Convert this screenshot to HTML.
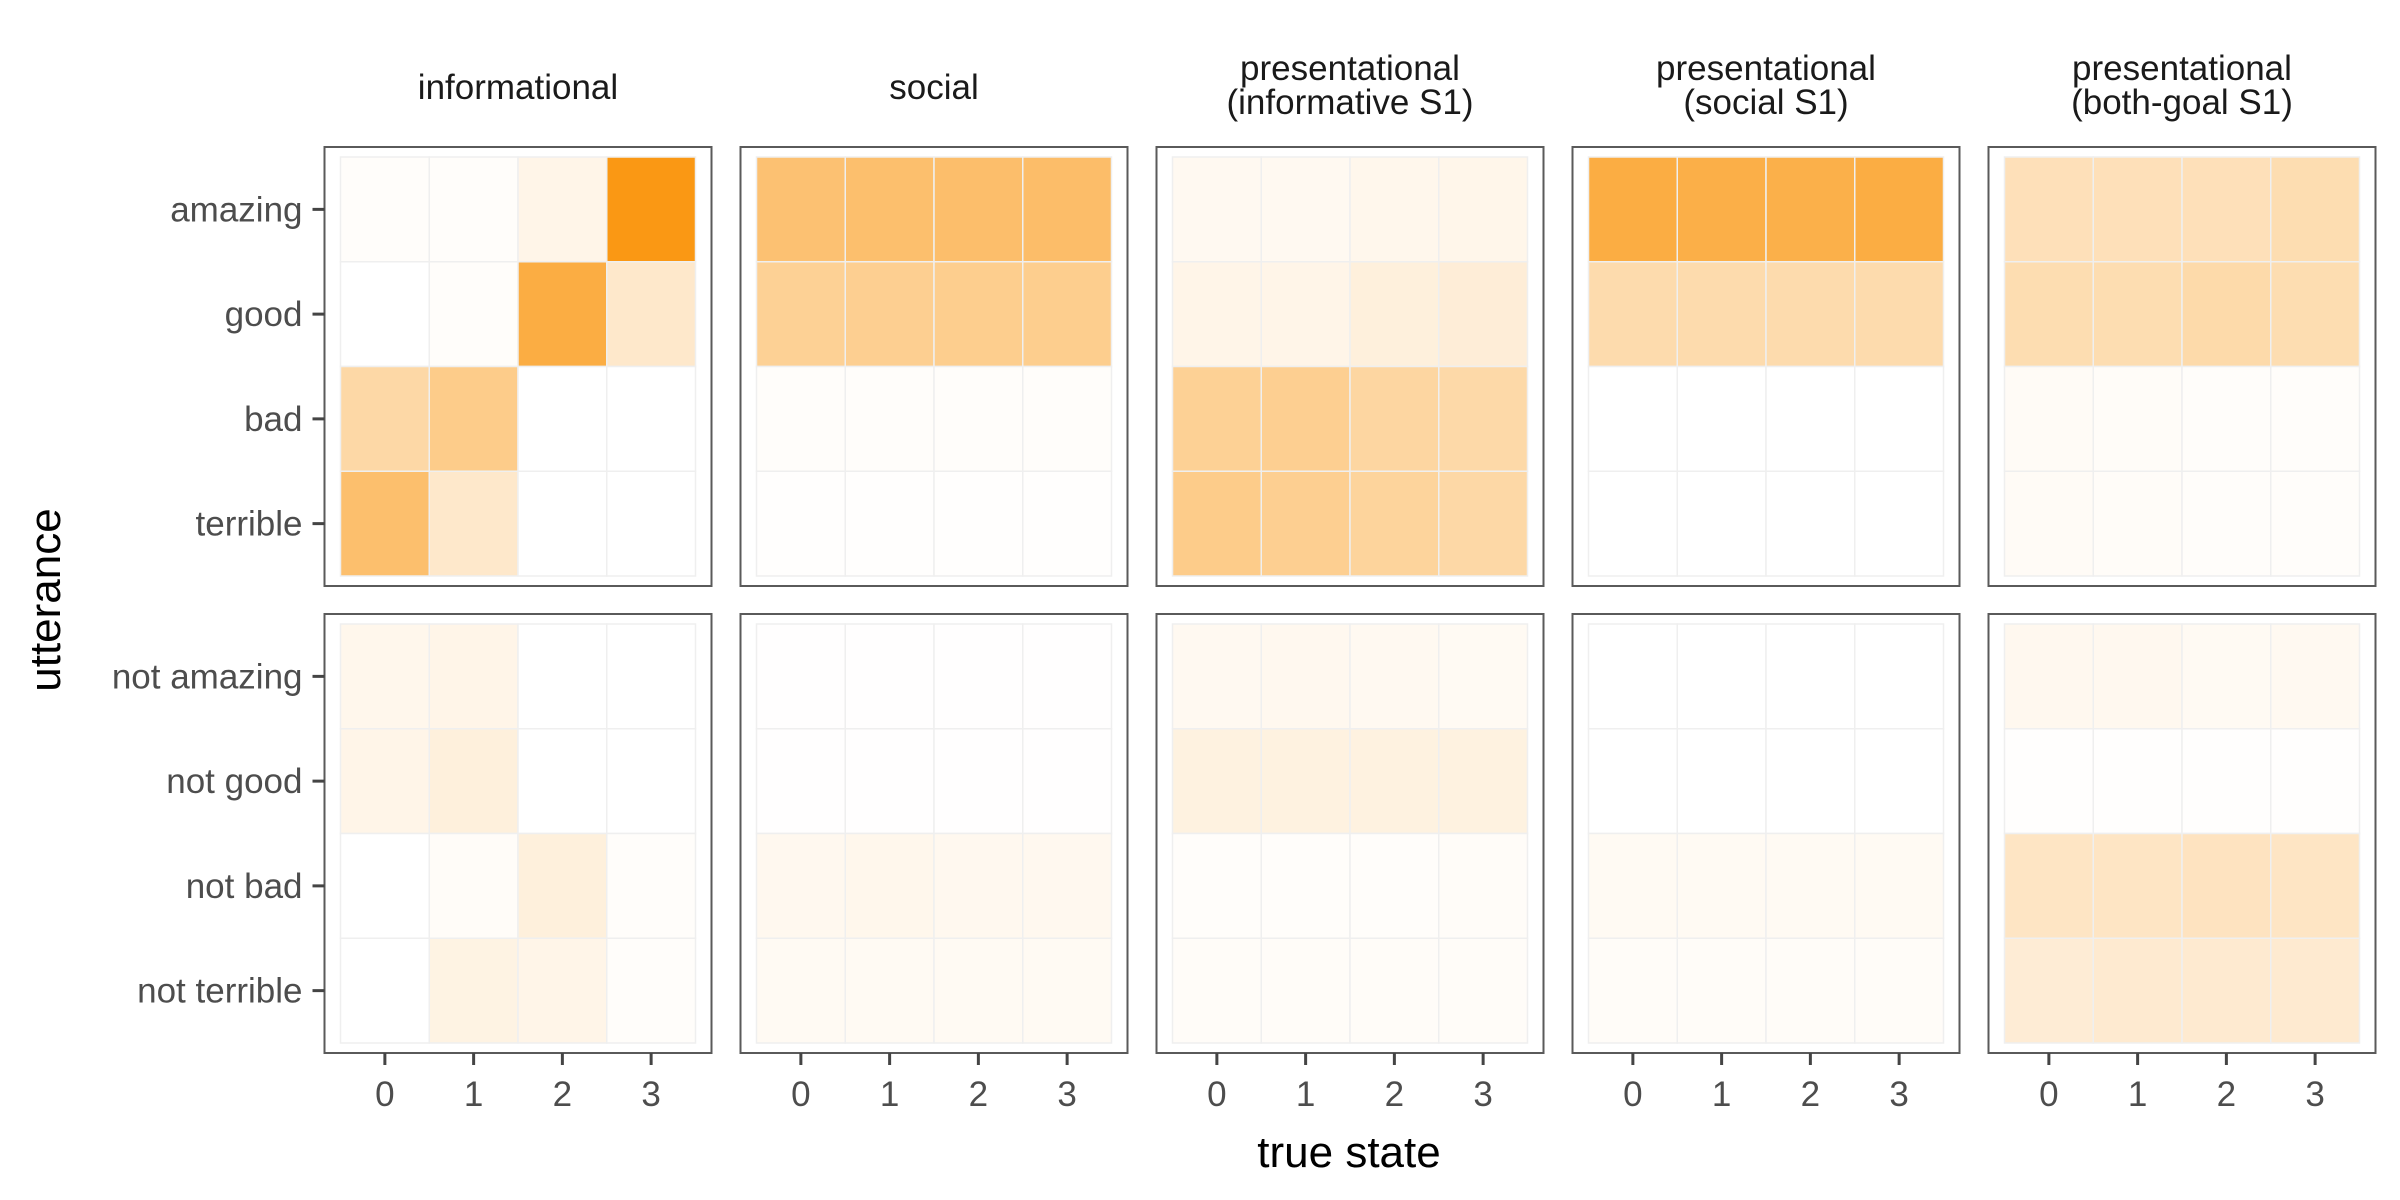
<!DOCTYPE html>
<html><head><meta charset="utf-8"><style>
html,body{margin:0;padding:0;background:#fff;}
svg{display:block;font-family:"Liberation Sans",sans-serif;}
</style></head><body>
<svg id="chart" width="2400" height="1200" viewBox="0 0 2400 1200"></svg>
<script>
const panels = ["informational","social","presentational\n(informative S1)","presentational\n(social S1)","presentational\n(both-goal S1)"];
const topRows = ["amazing","good","bad","terrible"];
const bottomRows = ["not amazing","not good","not bad","not terrible"];
const states = ["0","1","2","3"];
// values[panel][row][col], top facet
const topValues = [
  [[0.02,0.02,0.1,1.0],[0,0.02,0.8,0.22],[0.38,0.5,0,0],[0.62,0.22,0,0]],
  [[0.6,0.62,0.63,0.64],[0.45,0.47,0.48,0.48],[0.02,0.02,0.02,0.02],[0.01,0.01,0.01,0.01]],
  [[0.06,0.06,0.08,0.09],[0.1,0.1,0.15,0.17],[0.45,0.47,0.4,0.37],[0.5,0.47,0.42,0.38]],
  [[0.8,0.78,0.77,0.8],[0.35,0.35,0.35,0.35],[0,0,0,0],[0,0,0,0]],
  [[0.3,0.3,0.3,0.33],[0.33,0.33,0.36,0.33],[0.04,0.03,0.02,0.02],[0.04,0.03,0.02,0.02]]
];
const bottomValues = [
  [[0.08,0.1,0,0],[0.1,0.15,0,0],[0,0.03,0.15,0.02],[0,0.12,0.1,0.02]],
  [[0.005,0.005,0.005,0.005],[0.005,0.005,0.005,0.005],[0.07,0.08,0.07,0.07],[0.05,0.05,0.05,0.05]],
  [[0.06,0.07,0.06,0.05],[0.13,0.13,0.13,0.13],[0.02,0.02,0.02,0.03],[0.03,0.03,0.03,0.03]],
  [[0,0,0,0],[0,0,0,0],[0.05,0.05,0.05,0.05],[0.03,0.03,0.03,0.03]],
  [[0.07,0.07,0.05,0.06],[0.01,0.01,0.01,0.01],[0.25,0.25,0.27,0.25],[0.18,0.2,0.2,0.2]]
];
const NS="http://www.w3.org/2000/svg";
const svg=document.getElementById('chart');
function mk(tag,attrs,parent){const e=document.createElementNS(NS,tag);for(const k in attrs)e.setAttribute(k,attrs[k]);(parent||svg).appendChild(e);return e;}
function color(v){const r=Math.round(255-5*v),g=Math.round(255-103*v),b=Math.round(255-235*v);return `rgb(${r},${g},${b})`;}
const panelX0=324.5, panelPitch=416, panelW=387;
const rowY=[147,614], panelH=439;
const insX=16, insY=10;
function xScale(p,c){const x0=panelX0+p*panelPitch+insX;const w=(panelW-2*insX)/4;return x0+c*w;}
function yScale(f,r){const y0=rowY[f]+insY;const h=(panelH-2*insY)/4;return y0+r*h;}
const cw=(panelW-2*insX)/4, ch=(panelH-2*insY)/4;
[topValues,bottomValues].forEach((vals,f)=>{
  vals.forEach((pv,p)=>{
    const g=mk('g',{});
    
    
    const fr=mk('rect',{x:panelX0+p*panelPitch,y:rowY[f],width:panelW,height:panelH,fill:'#fff',stroke:'none'},g);
    
    
    pv.forEach((row,r)=>row.forEach((v,c)=>{
      const t=mk('rect',{x:xScale(p,c),y:yScale(f,r),width:cw,height:ch,fill:color(v),stroke:'#efefef','stroke-width':1.5},g);
      
      
    }));
    const b=mk('rect',{x:panelX0+p*panelPitch,y:rowY[f],width:panelW,height:panelH,fill:'none',stroke:'#5a5a5a','stroke-width':2},g);
    
    
  });
});
// strip titles
panels.forEach((t,p)=>{
  const cx=panelX0+p*panelPitch+panelW/2;
  const lines=t.split('\n');
  const tx=mk('text',{x:cx,'text-anchor':'middle','font-size':35,fill:'#1a1a1a'});
  
  
  if(lines.length===1){tx.setAttribute('y',99);tx.textContent=lines[0];}
  else{lines.forEach((l,i)=>{const s=mk('tspan',{x:cx,y:80+i*34},tx);s.textContent=l;});}
});
// y axis ticks/labels
[topRows,bottomRows].forEach((rows,f)=>{
  rows.forEach((lab,r)=>{
    const y=yScale(f,r)+ch/2;
    const tk=mk('line',{x1:panelX0-12,x2:panelX0,y1:y,y2:y,stroke:'#444','stroke-width':3});
    
    
    const t=mk('text',{x:panelX0-22,y:y+12,'text-anchor':'end','font-size':35,fill:'#4d4d4d'});
    
    
    t.textContent=lab;
  });
});
// x axis ticks/labels
panels.forEach((_,p)=>{
  states.forEach((s,c)=>{
    const x=xScale(p,c)+cw/2, y0=rowY[1]+panelH;
    const tk=mk('line',{x1:x,x2:x,y1:y0,y2:y0+12,stroke:'#444','stroke-width':3});
    
    
    const t=mk('text',{x:x,y:y0+53,'text-anchor':'middle','font-size':35,fill:'#4d4d4d'});
    
    
    t.textContent=s;
  });
});
const xt=mk('text',{x:1349,y:1167,'text-anchor':'middle','font-size':44,fill:'#000'});


xt.textContent='true state';
const yt=mk('text',{x:0,y:0,'text-anchor':'middle','font-size':44,fill:'#000',transform:'translate(60,600) rotate(-90)'});


yt.textContent='utterance';
</script>
</body></html>
